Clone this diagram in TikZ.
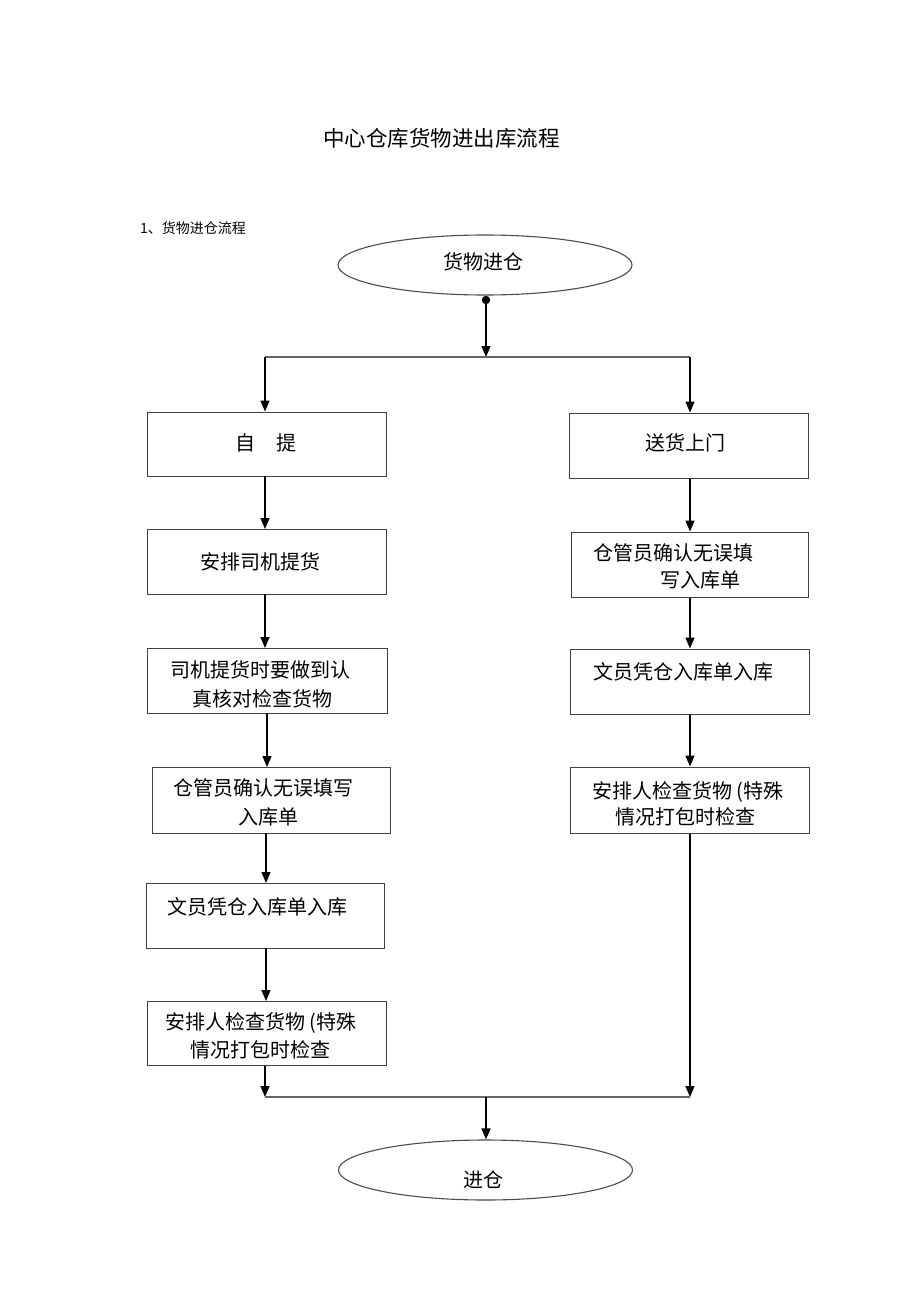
\documentclass[tikz,border=0pt]{standalone}
\usepackage{fontspec}
\setmainfont{Liberation Serif}
\newfontfamily\cjk{Noto Sans CJK SC}
\usetikzlibrary{arrows.meta,shapes.geometric}
\begin{document}
\begin{tikzpicture}[x=1pt,y=-1pt,
  box/.style={draw=black!75,line width=1pt,minimum width=238pt,minimum height=65pt,inner sep=0pt},
  oval/.style={ellipse,draw=black!70,line width=1.1pt,minimum width=294pt,minimum height=60pt,inner sep=0pt},
  txt/.style={font=\cjk\fontsize{20pt}{24pt}\selectfont,inner sep=0pt,anchor=west},
  arr/.style={draw=black,line width=1.4pt,-{Triangle[width=9pt,length=11pt]}},
  bar/.style={draw=black!60,line width=1.4pt}]
\useasboundingbox (0,0) rectangle (920,1303);
% title
\node[font=\cjk\fontsize{21.5pt}{26pt}\selectfont,inner sep=0pt] (title) at (441.5,138) {中心仓库货物进出库流程};
\node[font=\cjk\fontsize{14pt}{17pt}\selectfont,inner sep=0pt,anchor=west] (sub) at (140,228) {1、货物进仓流程};
% start / end
\node[oval] (start) at (485,265) {};
\node[txt] (startT) at (443,262) {货物进仓};
\node[oval] (end) at (485.5,1170) {};
\node[txt] (endT) at (463,1180) {进仓};
% left boxes
\node[box,minimum width=239pt,minimum height=64pt] (L1) at (266.5,444) {};
\node[txt] (L1a) at (235,443) {自};
\node[txt] (L1b) at (276,443) {提};
\node[box,minimum width=239pt,minimum height=65pt] (L2) at (266.5,561.5) {};
\node[txt] (L2T) at (200,562) {安排司机提货};
\node[box,minimum width=240pt,minimum height=65pt] (L3) at (267,680.5) {};
\node[txt] (L3a) at (170,670) {司机提货时要做到认};
\node[txt] (L3b) at (192,699) {真核对检查货物};
\node[box,minimum width=238pt,minimum height=66pt] (L4) at (271,800) {};
\node[txt] (L4a) at (173,788) {仓管员确认无误填写};
\node[txt] (L4b) at (238,817) {入库单};
\node[box,minimum width=238pt,minimum height=65pt] (L5) at (265,915.5) {};
\node[txt] (L5T) at (167,907) {文员凭仓入库单入库};
\node[box,minimum width=239pt,minimum height=64pt] (L6) at (266.5,1033) {};
\node[txt] (L6a) at (165,1023) {安排人检查货物 (特殊};
\node[txt] (L6b) at (190,1050) {情况打包时检查};
% right boxes
\node[box,minimum width=239pt,minimum height=65pt] (R1) at (688.5,445.5) {};
\node[txt] (R1T) at (645,443) {送货上门};
\node[box,minimum width=237pt,minimum height=65pt] (R2) at (689.5,564.5) {};
\node[txt] (R2a) at (593,553) {仓管员确认无误填};
\node[txt] (R2b) at (660,580) {写入库单};
\node[box,minimum width=239pt,minimum height=65pt] (R3) at (689.5,681.5) {};
\node[txt] (R3T) at (593,672) {文员凭仓入库单入库};
\node[box,minimum width=239pt,minimum height=66pt] (R4) at (689.5,800) {};
\node[txt] (R4a) at (592,792) {安排人检查货物 (特殊};
\node[txt] (R4b) at (615,817) {情况打包时检查};
% split
\coordinate (dot) at (486,300);
\coordinate (split) at (486,357);
\coordinate (splitL) at (265,357);
\coordinate (splitR) at (690,357);
\fill[black] (dot) circle (4.2pt);
\draw[arr] (dot) -- (split);
\draw[bar] (splitL) -- (splitR);
\draw[arr] (splitL) -- (splitL |- L1.north);
\draw[arr] (splitR) -- (splitR |- R1.north);
% left chain
\draw[arr] (265,476) -- (265,529);
\draw[arr] (265,594) -- (265,648);
\draw[arr] (267,713) -- (267,767);
\draw[arr] (266,833) -- (266,883);
\draw[arr] (266,948) -- (266,1001);
% right chain
\draw[arr] (R1.south -| splitR) -- (R2.north -| splitR);
\draw[arr] (R2.south -| splitR) -- (R3.north -| splitR);
\draw[arr] (R3.south -| splitR) -- (R4.north -| splitR);
% merge
\coordinate (mergeL) at (265,1097);
\coordinate (mergeR) at (690,1097);
\coordinate (merge) at (486,1097);
\draw[arr] (L6.south -| mergeL) -- (mergeL);
\draw[arr] (R4.south -| mergeR) -- (mergeR);
\draw[bar] (mergeL) -- (mergeR);
\draw[arr] (merge) -- (merge |- end.north);
\end{tikzpicture}
\end{document}
